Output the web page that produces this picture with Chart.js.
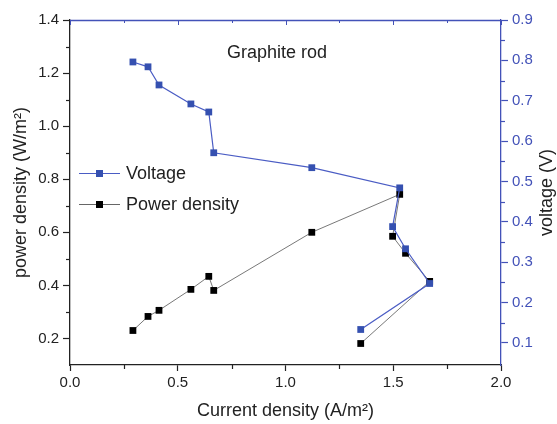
<!DOCTYPE html>
<html>
<head>
<meta charset="utf-8">
<script src="https://cdn.jsdelivr.net/npm/chart.js@4/dist/chart.umd.min.js"></script>
<style>
html,body{margin:0;padding:0;background:#fff;}
#wrap{width:557px;height:424px;}
</style>
</head>
<body>
<div id="wrap"><canvas id="c" width="557" height="424"></canvas></div>
<script>
// Data
const currentDensity = [0.292, 0.362, 0.413, 0.561, 0.644, 0.667, 1.122, 1.530, 1.497, 1.557, 1.669, 1.349];
const voltage        = [0.796, 0.784, 0.739, 0.692, 0.672, 0.571, 0.534, 0.484, 0.388, 0.333, 0.247, 0.133];
const powerDensity   = [0.230, 0.283, 0.306, 0.385, 0.434, 0.381, 0.600, 0.743, 0.585, 0.521, 0.415, 0.181];
const xTicks = [0.0, 0.5, 1.0, 1.5, 2.0];
const xMinor = [0.25, 0.75, 1.25, 1.75];
const leftTicks = [0.2, 0.4, 0.6, 0.8, 1.0, 1.2, 1.4];
const leftMinor = [0.3, 0.5, 0.7, 0.9, 1.1, 1.3];
const rightTicks = [0.1, 0.2, 0.3, 0.4, 0.5, 0.6, 0.7, 0.8, 0.9];
const rightMinor = [0.15, 0.25, 0.35, 0.45, 0.55, 0.65, 0.75, 0.85];
const seriesNames = ['Voltage', 'Power density'];
const chartTitle = 'Graphite rod';

const BLUE_LINE = '#4a5cc4';
const BLUE_PT = '#3550b0';
const BLUE_AXIS = '#4352b8';
const TXT = '#222';
const FONT = 'Arial, "Liberation Sans", sans-serif';

const pts = (ys) => currentDensity.map((x, i) => ({x, y: ys[i]}));

const extras = {
  id: 'extras',
  afterDraw(chart) {
    const ctx = chart.ctx;
    const {left, right, top, bottom} = chart.chartArea;
    const xs = chart.scales.x, yl = chart.scales.y, yr = chart.scales.y1;
    ctx.save();
    // top border (blue)
    ctx.strokeStyle = BLUE_AXIS; ctx.lineWidth = 1.3;
    ctx.beginPath(); ctx.moveTo(left, top + 0.5); ctx.lineTo(right, top + 0.5); ctx.stroke();
    // top ticks inward
    ctx.lineWidth = 1;
    xTicks.forEach(v => {
      const px = Math.round(xs.getPixelForValue(v)) + 0.5;
      ctx.beginPath(); ctx.moveTo(px, top); ctx.lineTo(px, top + 5); ctx.stroke();
    });
    xMinor.forEach(v => {
      const px = Math.round(xs.getPixelForValue(v)) + 0.5;
      ctx.beginPath(); ctx.moveTo(px, top); ctx.lineTo(px, top + 3); ctx.stroke();
    });
    // minor ticks
    ctx.strokeStyle = '#222'; ctx.lineWidth = 1.2;
    xMinor.forEach(v => {
      const px = Math.round(xs.getPixelForValue(v)) + 0.5;
      ctx.beginPath(); ctx.moveTo(px, bottom); ctx.lineTo(px, bottom + 4); ctx.stroke();
    });
    leftMinor.forEach(v => {
      const py = Math.round(yl.getPixelForValue(v)) + 0.5;
      ctx.beginPath(); ctx.moveTo(left, py); ctx.lineTo(left - 4, py); ctx.stroke();
    });
    ctx.strokeStyle = BLUE_AXIS;
    rightMinor.forEach(v => {
      const py = Math.round(yr.getPixelForValue(v)) + 0.5;
      ctx.beginPath(); ctx.moveTo(right, py); ctx.lineTo(right + 4, py); ctx.stroke();
    });
    // right axis title (rotated bottom-to-top)
    ctx.fillStyle = TXT;
    ctx.font = '18px ' + FONT;
    ctx.textAlign = 'center'; ctx.textBaseline = 'middle';
    ctx.save();
    ctx.translate(547, (top + bottom) / 2);
    ctx.rotate(-Math.PI / 2);
    ctx.fillText('voltage (V)', 0, 0);
    ctx.restore();
    // chart title
    ctx.font = '18px ' + FONT;
    ctx.textAlign = 'left';
    ctx.fillText(chartTitle, 227, 53);
    // legend
    const items = [
      {name: seriesNames[0], line: BLUE_LINE, pt: BLUE_PT, y: 173, lw: 1.2},
      {name: seriesNames[1], line: '#666', pt: '#000', y: 204, lw: 1}
    ];
    items.forEach(it => {
      ctx.strokeStyle = it.line; ctx.lineWidth = it.lw;
      ctx.beginPath(); ctx.moveTo(79, it.y + 0.5); ctx.lineTo(120, it.y + 0.5); ctx.stroke();
      ctx.fillStyle = it.pt;
      ctx.fillRect(96, it.y - 3, 7, 7);
      ctx.fillStyle = TXT;
      ctx.font = '18px ' + FONT;
      ctx.textAlign = 'left'; ctx.textBaseline = 'middle';
      ctx.fillText(it.name, 126, it.y + 1);
    });
    ctx.restore();
  }
};

new Chart(document.getElementById('c'), {
  type: 'scatter',
  data: {
    datasets: [
      {
        label: seriesNames[0],
        data: pts(voltage),
        yAxisID: 'y1',
        showLine: true,
        borderColor: BLUE_LINE,
        borderWidth: 1.2,
        backgroundColor: BLUE_PT,
        pointBackgroundColor: BLUE_PT,
        pointBorderColor: BLUE_PT,
        pointBorderWidth: 0,
        pointStyle: 'rect',
        pointRadius: 4.8,
        order: 1
      },
      {
        label: seriesNames[1],
        data: pts(powerDensity),
        yAxisID: 'y',
        showLine: true,
        borderColor: '#555',
        borderWidth: 0.8,
        backgroundColor: '#000',
        pointBackgroundColor: '#000',
        pointBorderColor: '#000',
        pointBorderWidth: 0,
        pointStyle: 'rect',
        pointRadius: 4.8,
        order: 2
      }
    ]
  },
  options: {
    responsive: false,
    animation: false,
    devicePixelRatio: 1,
    layout: {padding: {top: 20, left: 0, right: 0, bottom: 0}},
    plugins: {legend: {display: false}, tooltip: {enabled: false}},
    scales: {
      x: {
        type: 'linear', min: 0, max: 2,
        afterBuildTicks: s => { s.ticks = xTicks.map(v => ({value: v})); },
        afterFit: s => { s.height = 59; },
        ticks: {callback: v => v.toFixed(1), color: TXT, font: {size: 15, family: FONT}, padding: 3, maxRotation: 0},
        grid: {display: true, drawOnChartArea: false, drawTicks: true, tickLength: 6, tickColor: '#222', tickWidth: 1.2},
        border: {display: true, color: '#222', width: 1.3},
        title: {display: true, text: 'Current density (A/m²)', color: TXT, font: {size: 18, family: FONT}, padding: {top: 4, bottom: 2}}
      },
      y: {
        type: 'linear', position: 'left', min: 0.1, max: 1.4,
        afterBuildTicks: s => { s.ticks = leftTicks.map(v => ({value: v})); },
        afterFit: s => { s.width = 70; },
        ticks: {callback: v => v.toFixed(1), color: TXT, font: {size: 15, family: FONT}, padding: 4},
        grid: {display: true, drawOnChartArea: false, drawTicks: true, tickLength: 7, tickColor: '#222', tickWidth: 1.2},
        border: {display: true, color: '#222', width: 1.3},
        title: {display: true, text: 'power density (W/m²)', color: TXT, font: {size: 18, family: FONT}, padding: {top: 10, bottom: 0}}
      },
      y1: {
        type: 'linear', position: 'right', min: 0.045, max: 0.9,
        afterBuildTicks: s => { s.ticks = rightTicks.map(v => ({value: v})); },
        afterFit: s => { s.width = 56; },
        ticks: {callback: v => v.toFixed(1), color: BLUE_AXIS, font: {size: 15, family: FONT}, padding: 4},
        grid: {display: true, drawOnChartArea: false, drawTicks: true, tickLength: 7, tickColor: BLUE_AXIS, tickWidth: 1.2},
        border: {display: true, color: BLUE_AXIS, width: 1.3}
      }
    }
  },
  plugins: [extras]
});
</script>
</body>
</html>
